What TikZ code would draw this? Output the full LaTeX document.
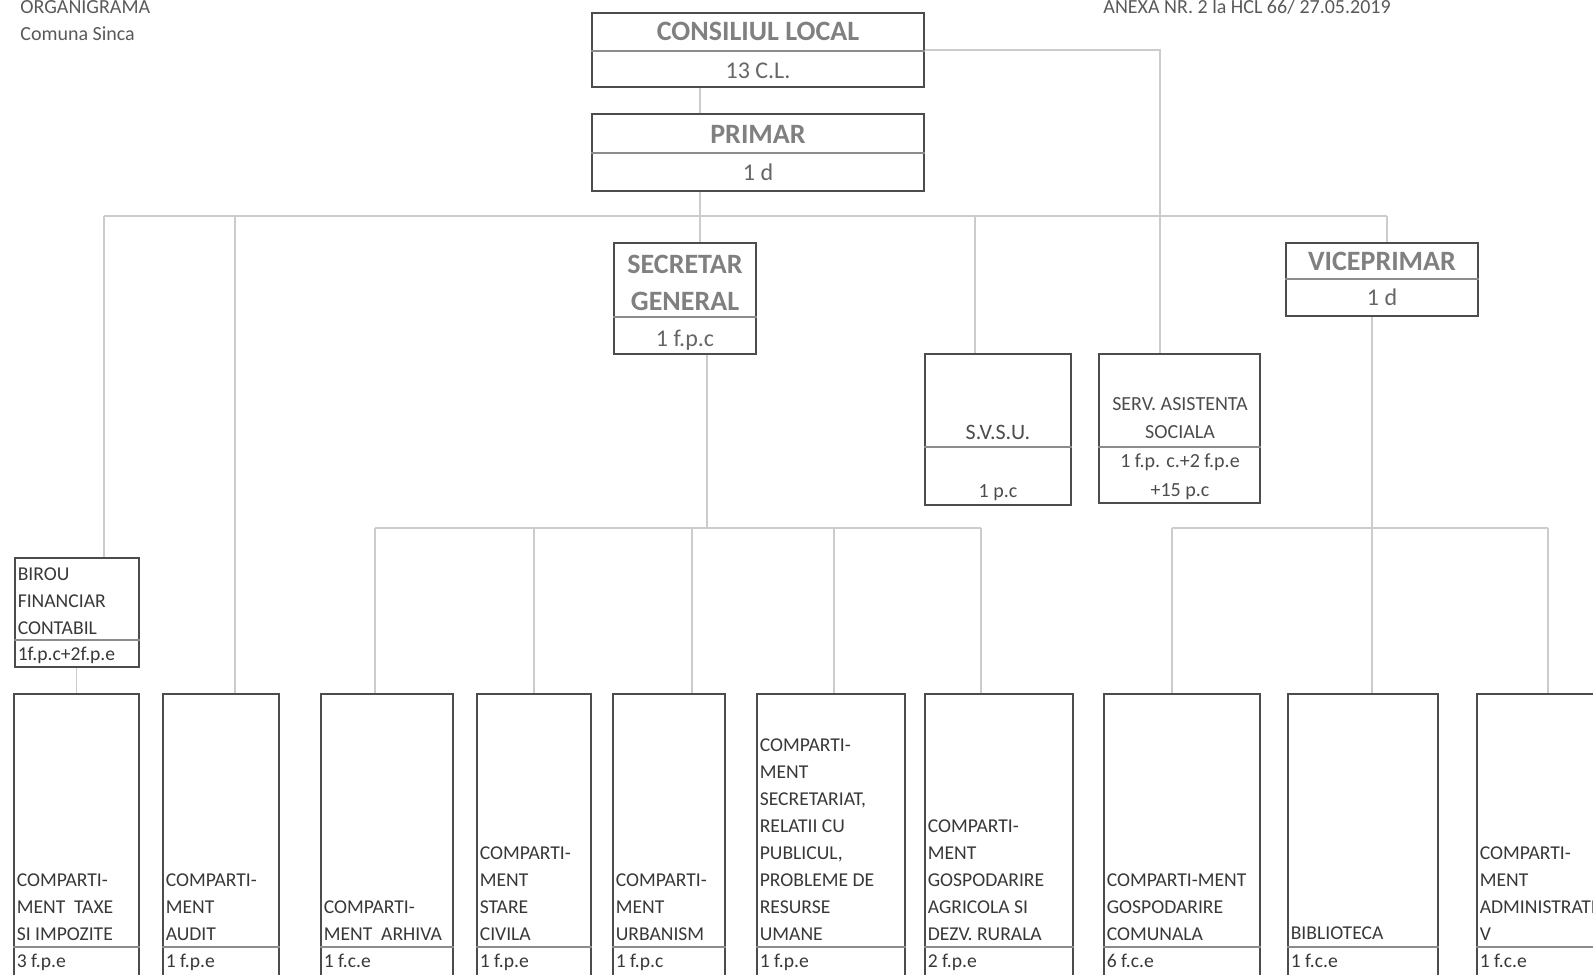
\documentclass[tikz,border=0pt]{standalone}
\usepackage{fontspec}
\setmainfont{Carlito}
\usetikzlibrary{fit}

\begin{document}
\begin{tikzpicture}[x=0.5pt,y=-0.5pt,
  box/.style={draw=black!70, line width=0.6pt, inner sep=0pt},
  divline/.style={draw=black!45, line width=0.6pt},
  conn/.style={draw=black!20, line width=0.6pt},
  hdr/.style={font=\fontsize{14}{17}\selectfont\bfseries, text=black!50, anchor=base, inner sep=0pt},
  num/.style={font=\fontsize{12}{14}\selectfont, text=black!60, anchor=base, inner sep=0pt},
  smalltxt/.style={font=\fontsize{10}{12}\selectfont, text=black!70, anchor=base, inner sep=0pt},
  lbl/.style={font=\fontsize{9.8}{13.5}\selectfont, text=black!78, align=left, anchor=south west, inner sep=0pt, xshift=1.5pt},
  val/.style={font=\fontsize{9.8}{12}\selectfont, text=black!78, anchor=base west, inner sep=0pt, xshift=1.5pt},
  note/.style={font=\fontsize{10}{12}\selectfont, text=black!65, anchor=base west, inner sep=0pt}]
\useasboundingbox (0,0) rectangle (1593,974);
\clip (0,0) rectangle (1593,974);

% Page notes
\node[note] (org) at (20,14) {ORGANIGRAMA};
\node[note] (com) at (20,41) {Comuna Sinca};
\node[note] (anexa) at (1103,14) {ANEXA NR. 2 la HCL 66/ 27.05.2019};

% Upper boxes
\node[box, fit={(592,13) (924,87)}] (cl) {};
\node[box, fit={(592,114) (924,191)}] (primar) {};
\node[box, fit={(614,243) (756,354)}] (secretar) {};
\node[box, fit={(1286,243) (1478,316)}] (vice) {};
\node[box, fit={(925,354) (1071,505)}] (svsu) {};
\node[box, fit={(1099,354) (1260,503)}] (asist) {};
\node[box, fit={(15,558) (139,667)}] (birou) {};

\draw[divline] (cl.west |- 0,51) -- (cl.east |- 0,51);
\draw[divline] (primar.west |- 0,153) -- (primar.east |- 0,153);
\draw[divline] (secretar.west |- 0,317) -- (secretar.east |- 0,317);
\draw[divline] (vice.west |- 0,279) -- (vice.east |- 0,279);
\draw[divline] (svsu.west |- 0,447) -- (svsu.east |- 0,447);
\draw[divline] (asist.west |- 0,447) -- (asist.east |- 0,447);
\draw[divline] (birou.west |- 0,640) -- (birou.east |- 0,640);

\node[hdr] (cl-t) at (758,41) {CONSILIUL LOCAL};
\node[num] (cl-n) at (758,79) {13 C.L.};
\node[hdr] (primar-t) at (758,143) {PRIMAR};
\node[num] (primar-n) at (758,180) {1 d};
\node[hdr] (secretar-t1) at (685,273) {SECRETAR};
\node[hdr] (secretar-t2) at (685,310) {GENERAL};
\node[num] (secretar-n) at (685,346) {1 f.p.c};
\node[hdr] (vice-t) at (1382,270) {VICEPRIMAR};
\node[num] (vice-n) at (1382,305) {1 d};
\node[smalltxt, font=\fontsize{11}{13}\selectfont] (svsu-t) at (998,439) {S.V.S.U.};
\node[smalltxt] (svsu-n) at (998,497) {1 p.c};
\node[smalltxt] (asist-t1) at (1180,410) {SERV. ASISTENTA};
\node[smalltxt] (asist-t2) at (1180,438) {SOCIALA};
\node[smalltxt] (asist-n1) at (1180,467) {1 f.p. c.+2 f.p.e};
\node[smalltxt] (asist-n2) at (1180,496) {+15 p.c};
\node[lbl] (birou-t) at (birou.west |- 0,635) {BIROU\\FINANCIAR\\CONTABIL};
\node[val] (birou-n) at (birou.west |- 0,660) {1f.p.c+2f.p.e};

% Lower boxes
\foreach \n/\xa/\xb in {taxe/14/139, audit/163/279, arhiva/321/453, stare/477/591,
  urban/613/725, secr/757/905, agri/925/1073, comun/1104/1260, biblio/1288/1438,
  admin/1477/1620}
  \node[box, fit={(\xa,694) (\xb,990)}] (\n) {};
\coordinate (dv) at (0,947);
\foreach \n in {taxe,audit,arhiva,stare,urban,secr,agri,comun,biblio,admin}
  \draw[divline] (\n.west |- dv) -- (\n.east |- dv);

\node[lbl] (taxe-t) at (taxe.west |- 0,941) {COMPARTI-\\MENT\ \ TAXE\\SI IMPOZITE};
\node[val] (taxe-n) at (taxe.west |- 0,967) {3 f.p.e};
\node[lbl] (audit-t) at (audit.west |- 0,941) {COMPARTI-\\MENT\\AUDIT};
\node[val] (audit-n) at (audit.west |- 0,967) {1 f.p.e};
\node[lbl] (arhiva-t) at (arhiva.west |- 0,941) {COMPARTI-\\MENT\ \ ARHIVA};
\node[val] (arhiva-n) at (arhiva.west |- 0,967) {1 f.c.e};
\node[lbl] (stare-t) at (stare.west |- 0,941) {COMPARTI-\\MENT\\STARE\\CIVILA};
\node[val] (stare-n) at (stare.west |- 0,967) {1 f.p.e};
\node[lbl] (urban-t) at (urban.west |- 0,941) {COMPARTI-\\MENT\\URBANISM};
\node[val] (urban-n) at (urban.west |- 0,967) {1 f.p.c};
\node[lbl] (secr-t) at (secr.west |- 0,941) {COMPARTI-\\MENT\\SECRETARIAT,\\RELATII CU\\PUBLICUL,\\PROBLEME DE\\RESURSE\\UMANE};
\node[val] (secr-n) at (secr.west |- 0,967) {1 f.p.e};
\node[lbl] (agri-t) at (agri.west |- 0,941) {COMPARTI-\\MENT\\GOSPODARIRE\\AGRICOLA SI\\DEZV. RURALA};
\node[val] (agri-n) at (agri.west |- 0,967) {2 f.p.e};
\node[lbl] (comun-t) at (comun.west |- 0,941) {COMPARTI-MENT\\GOSPODARIRE\\COMUNALA};
\node[val] (comun-n) at (comun.west |- 0,967) {6 f.c.e};
\node[lbl] (biblio-t) at (biblio.west |- 0,940) {BIBLIOTECA};
\node[val] (biblio-n) at (biblio.west |- 0,967) {1 f.c.e};
\node[lbl] (admin-t) at (admin.west |- 0,941) {COMPARTI-\\MENT\\ADMINISTRATI\\V};
\node[val] (admin-n) at (admin.west |- 0,967) {1 f.c.e};

% Main bus under the mayor
\coordinate (ja) at (104,216);
\coordinate (jb) at (235,216);
\coordinate (jc) at (700,216);
\coordinate (jd) at (975,216);
\coordinate (je) at (1387,216);
\coordinate (jf) at (1160,50);
\draw[conn] (ja) -- (je);
\draw[conn] (cl.south -| jc) -- (jc |- primar.north);
\draw[conn] (primar.south -| jc) -- (jc |- secretar.north);
\draw[conn] (ja) -- (ja |- birou.north);
\draw[conn] (jb) -- (jb |- audit.north);
\draw[conn] (jd) -- (jd |- svsu.north);
\draw[conn] (je) -- (je |- vice.north);
\draw[conn] (cl.east |- jf) -- (jf) -- (jf |- asist.north);
\draw[conn] (birou.south -| taxe.north) -- (taxe.north);

% Bus under the secretary
\coordinate (ks) at (707,528);
\coordinate (ka) at (375,528);
\coordinate (kb) at (534,528);
\coordinate (kc) at (692,528);
\coordinate (kd) at (834,528);
\coordinate (ke) at (981,528);
\draw[conn] (ka) -- (ke);
\draw[conn] (secretar.south -| ks) -- (ks);
\foreach \j/\b in {ka/arhiva, kb/stare, kc/urban, kd/secr, ke/agri}
  \draw[conn] (\j) -- (\j |- \b.north);

% Bus under the deputy mayor
\coordinate (la) at (1172,528);
\coordinate (lb) at (1372,528);
\coordinate (lc) at (1548,528);
\draw[conn] (la) -- (lc);
\draw[conn] (vice.south -| lb) -- (lb);
\foreach \j/\b in {la/comun, lb/biblio, lc/admin}
  \draw[conn] (\j) -- (\j |- \b.north);
\end{tikzpicture}
\end{document}
